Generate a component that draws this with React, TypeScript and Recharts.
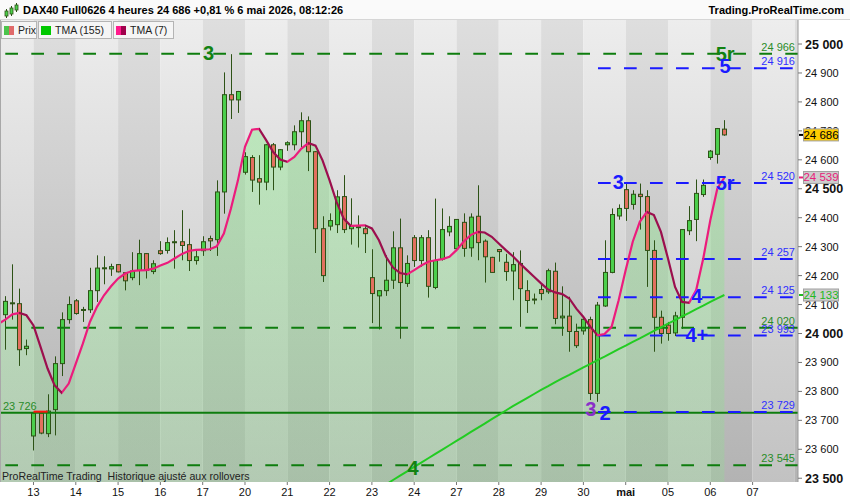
import React from 'react';
import {
  ComposedChart,
  XAxis,
  YAxis,
  Bar,
  Line,
  Area,
  ReferenceArea,
  ReferenceLine,
  ReferenceDot,
} from 'recharts';

const FONT = '"Liberation Sans", Arial, sans-serif';

// ---- Candles (4h bars), index 0..102 ----
const OPEN = [
  24065, 24103, 24103, 23948, 23646, 23725, 23654, 23737, 23896, 24048,
  24113, 24081, 24082, 24148, 24225, 24223, 24238, 24210, 24193, 24218,
  24276, 24214, 24286, 24287, 24314, 24317, 24307, 24252, 24286, 24328,
  24324, 24489, 24825, 24807, 24557, 24608, 24535, 24523, 24652, 24575,
  24652, 24652, 24697, 24735, 24628, 24362, 24371, 24376, 24473, 24362,
  24367, 24362, 24193, 24130, 24148, 24184, 24296, 24173, 24331, 24252,
  24331, 24159, 24257, 24351, 24293, 24384, 24296, 24405, 24319, 24263,
  24290, 24246, 24216, 24242, 24148, 24117, 24152, 24144, 24215, 24054,
  24060, 24007, 24009, 24048, 23793, 24095, 24211, 24406, 24497, 24446,
  24481, 24473, 24287, 24056, 24029, 24002, 24056, 24355, 24394, 24480,
  24608, 24619, 24706,
];
const HIGH = [
  24129, 24239, 24155, 23979, 23728, 23727, 23790, 23921, 24073, 24128,
  24119, 24092, 24227, 24270, 24267, 24241, 24240, 24212, 24281, 24324,
  24278, 24253, 24319, 24332, 24357, 24426, 24362, 24290, 24336, 24338,
  24529, 24902, 24965, 24838, 24626, 24616, 24616, 24654, 24658, 24637,
  24664, 24719, 24764, 24750, 24630, 24405, 24415, 24495, 24547, 24467,
  24408, 24370, 24291, 24150, 24270, 24353, 24397, 24270, 24340, 24340,
  24357, 24466, 24432, 24405, 24394, 24415, 24415, 24512, 24325, 24265,
  24292, 24275, 24281, 24287, 24184, 24138, 24170, 24224, 24245, 24163,
  24127, 24034, 24052, 24058, 24109, 24322, 24432, 24446, 24518, 24495,
  24518, 24495, 24322, 24079, 24040, 24075, 24359, 24440, 24532, 24532,
  24634, 24710, 24737,
];
const LOW = [
  23944, 24048, 23888, 23925, 23596, 23652, 23642, 23648, 23853, 24034,
  24065, 24040, 24071, 24109, 24170, 24199, 24211, 24149, 24184, 24167,
  24190, 24205, 24272, 24276, 24224, 24253, 24216, 24238, 24268, 24285,
  24268, 24414, 24741, 24762, 24549, 24489, 24445, 24495, 24495, 24564,
  24631, 24633, 24644, 24561, 24278, 24178, 24356, 24347, 24347, 24307,
  24297, 24278, 24036, 24014, 24130, 24154, 23982, 24161, 24230, 24230,
  24124, 24153, 24252, 24336, 24288, 24265, 24265, 24253, 24176, 24209,
  24248, 24182, 24115, 24023, 24071, 24101, 24115, 24137, 24032, 23992,
  23937, 23950, 23996, 23770, 23764, 24092, 24208, 24393, 24389, 24428,
  24359, 24161, 23937, 23965, 23975, 23991, 24016, 24340, 24319, 24472,
  24600, 24587, 24683,
];
const CLOSE = [
  24111, 24106, 23944, 23956, 23725, 23656, 23732, 23896, 24048, 24100,
  24069, 24083, 24148, 24226, 24227, 24231, 24213, 24182, 24216, 24276,
  24218, 24241, 24276, 24314, 24317, 24304, 24252, 24265, 24317, 24320,
  24489, 24825, 24807, 24836, 24611, 24530, 24523, 24652, 24575, 24635,
  24659, 24697, 24735, 24628, 24362, 24200, 24390, 24472, 24359, 24371,
  24369, 24345, 24138, 24148, 24184, 24296, 24176, 24242, 24252, 24331,
  24163, 24252, 24359, 24370, 24394, 24294, 24402, 24314, 24265, 24211,
  24283, 24214, 24238, 24155, 24114, 24119, 24138, 24217, 24052, 24060,
  24007, 23958, 24049, 23793, 24098, 24211, 24411, 24432, 24432, 24481,
  24473, 24287, 24056, 24000, 24000, 24061, 24359, 24390, 24484, 24512,
  24630, 24708, 24686,
];

// ---- TMA (7), index -1..102 ----
const TMA7_FIRST_INDEX = -1;
const TMA7 = [
  24033,
  24048, 24066, 24071, 24063, 24028, 23954, 23879, 23821, 23795, 23827,
  23896, 23965, 24040, 24092, 24132, 24163, 24190, 24207, 24216, 24218,
  24219, 24224, 24235, 24244, 24259, 24274, 24285, 24289, 24290, 24291,
  24301, 24345, 24431, 24529, 24645, 24704, 24707, 24668, 24627, 24601,
  24593, 24610, 24639, 24658, 24649, 24598, 24529, 24454, 24397, 24372,
  24373, 24374, 24363, 24322, 24265, 24228, 24209, 24204, 24219, 24235,
  24248, 24253, 24257, 24265, 24288, 24317, 24340, 24351, 24349, 24334,
  24311, 24288, 24267, 24242, 24219, 24196, 24173, 24152, 24142, 24136,
  24121, 24086, 24057, 24023, 23994, 23998, 24023, 24115, 24219, 24317,
  24386, 24420, 24409, 24351, 24259, 24161, 24109, 24106, 24150, 24259,
  24391, 24501, 24539,
];

// ---- TMA (155), index 54..102 ----
const TMA155_FIRST_INDEX = 54;
const TMA155 = [
  23478, 23494, 23509, 23524, 23539, 23554, 23569, 23584, 23599, 23614,
  23629, 23644, 23659, 23674, 23689, 23704, 23719, 23734, 23749, 23763,
  23777, 23791, 23805, 23818, 23832, 23845, 23857, 23870, 23883, 23895,
  23908, 23920, 23933, 23946, 23958, 23971, 23983, 23996, 24009, 24021,
  24034, 24046, 24059, 24071, 24084, 24096, 24109, 24121, 24133,
];

// ---- Axes ----
const DAY_TICKS = [4, 10, 16, 22, 28, 34, 40, 46, 52, 58, 64, 70, 76, 82, 88, 94, 100, 106];
const DAY_LABELS = ['13', '14', '15', '16', '17', '20', '21', '22', '23', '24', '27', '28', '29', '30', 'mai', '05', '06', '07'];
const Y_TICKS = [23500, 23600, 23700, 23800, 23900, 24000, 24100, 24200, 24300, 24400, 24500, 24600, 24700, 24800, 24900, 25000];
const X_DOMAIN = [-0.75, 112.44];
const Y_DOMAIN = [23487, 25083];

// ---- Levels ----
const GREEN_DASHED = [24966, 24020, 23545];
const GREEN_SOLID = 23726;
const BLUE_DASHED = [24916, 24520, 24257, 24125, 23993, 23729];
const BLUE_START_INDEX = 84.07;

// ---- Markers ----
const MARKER_TEXT = ['3', '5r', '5', '3', '5r', '4', '4+', '3', '2', '4'];
const MARKER_X = [28.85, 102.1, 102.1, 86.95, 102.1, 98.07, 98.1, 83.04, 85.06, 57.83];
const MARKER_Y = [24969, 24965, 24923, 24524, 24520, 24129, 23994, 23741, 23725, 23534];
const MARKER_KIND = ['g', 'g', 'b', 'b', 'b', 'b', 'b', 'p', 'b', 'g'];

// ---- Right price tags ----
const TAG_VALUES = [24686, 24539, 24133];
const TAG_BG = ['#ffcc00', '#cdcdcd', '#cdcdcd'];
const TAG_FG = ['#000000', '#e8207a', '#22b822'];

const PINK = '#ec1c7c';
const MAROON = '#9c0f4e';
const CANDLE_UP = '#4ccf4c';
const CANDLE_DOWN = '#e2705f';
const CANDLE_EDGE = '#2d5216';
const LVL_GREEN = '#0e7d0e';
const LVL_BLUE = '#1a1aff';
const TXT_GREEN = '#2a8c2a';
const TXT_BLUE = '#3030ff';
const MK_COLORS: Record<string, string> = { g: '#128212', b: '#1a1aff', p: '#8a2fc8' };

const fmt = (v: number) => `${Math.floor(v / 1000)} ${String(Math.round(v) % 1000).padStart(3, '0')}`;

const rows = TMA7.map((t, k) => {
  const i = TMA7_FIRST_INDEX + k;
  const row: any = { i, tma7: t };
  if (i >= 0 && i < OPEN.length) {
    row.o = OPEN[i];
    row.h = HIGH[i];
    row.l = LOW[i];
    row.c = CLOSE[i];
  }
  const j = i - TMA155_FIRST_INDEX;
  row.tma155 = j >= 0 && j < TMA155.length ? TMA155[j] : null;
  return row;
});

const CandleShape = (props: any) => {
  const { x, y, width, height, payload } = props;
  if (!payload || payload.o == null || x == null || y == null) return null;
  const { o, h, l, c } = payload;
  const top = Math.min(y, y + height);
  const hgt = Math.abs(height);
  if (!(hgt > 0) || h <= l) return null;
  const ppu = hgt / (h - l);
  const yOf = (v: number) => top + (h - v) * ppu;
  const px = Math.round(x + width / 2);
  const bTop = yOf(Math.max(o, c));
  const bBot = yOf(Math.min(o, c));
  const up = c >= o;
  return (
    <g>
      <line x1={px + 0.5} x2={px + 0.5} y1={top} y2={top + hgt} stroke={CANDLE_EDGE} strokeWidth={1} />
      <rect
        x={px - 1.5}
        y={bTop}
        width={4}
        height={Math.max(bBot - bTop, 1)}
        fill={up ? CANDLE_UP : CANDLE_DOWN}
        stroke={CANDLE_EDGE}
        strokeWidth={1}
      />
    </g>
  );
};

const YTick = (props: any) => {
  const { x, y, payload } = props;
  const v = payload.value;
  const bold = v % 500 === 0;
  return (
    <text
      x={x}
      y={y}
      dy={bold ? 4.5 : 4}
      textAnchor="start"
      fontSize={bold ? 12.5 : 11}
      fontWeight={bold ? 'bold' : 'normal'}
      fill="#111"
      fontFamily={FONT}
    >
      {fmt(v)}
    </text>
  );
};

const XTick = (props: any) => {
  const { x, y, payload } = props;
  const idx = DAY_TICKS.indexOf(payload.value);
  const label = DAY_LABELS[idx] ?? '';
  return (
    <text
      x={x}
      y={y}
      dy={8.5}
      textAnchor="middle"
      fontSize={11}
      fontWeight={label === 'mai' ? 'bold' : 'normal'}
      fill="#111"
      fontFamily={FONT}
    >
      {label}
    </text>
  );
};

const makeTag = (k: number) => (props: any) => {
  const { cx, cy } = props;
  if (cx == null || cy == null) return <g />;
  return (
    <g>
      <line x1={cx + 1} x2={cx + 5} y1={cy} y2={cy} stroke={k === 0 ? '#000' : TAG_FG[k]} strokeWidth={2} />
      <rect x={cx + 5.5} y={cy - 6} width={35} height={12} fill={TAG_BG[k]} stroke="#a0a0a0" strokeWidth={1} />
      <text x={cx + 23} y={cy} dy={4} textAnchor="middle" fontSize={11.5} fill={TAG_FG[k]} fontFamily={FONT}>
        {fmt(TAG_VALUES[k])}
      </text>
    </g>
  );
};

// direction colouring of TMA(7): stops follow the data
const tmaStops: React.ReactNode[] = [];
for (let k = 1; k < TMA7.length; k++) {
  const col = TMA7[k] >= TMA7[k - 1] ? PINK : MAROON;
  const n = TMA7.length - 1;
  tmaStops.push(<stop key={`a${k}`} offset={(k - 1) / n} stopColor={col} />);
  tmaStops.push(<stop key={`b${k}`} offset={k / n} stopColor={col} />);
}

// day bands (alternating)
const bandEdges = [X_DOMAIN[0], ...DAY_TICKS, 112, X_DOMAIN[1]];

export default function App() {
  return (
    <div
      style={{
        position: 'fixed',
        left: 0,
        top: 0,
        width: 850,
        height: 500,
        background: '#ffffff',
        fontFamily: FONT,
        overflow: 'hidden',
      }}
    >
      <div style={{ position: 'absolute', left: 0, top: 0 }}>
        <ComposedChart width={850} height={500} data={rows} margin={{ top: 20, right: 0, bottom: 0, left: 0 }}>
          <defs>
            <linearGradient id="bandLight" x1="0" y1="0" x2="0" y2="1">
              <stop offset="0" stopColor="#ededed" />
              <stop offset="1" stopColor="#c2c2c2" />
            </linearGradient>
            <linearGradient id="bandDark" x1="0" y1="0" x2="0" y2="1">
              <stop offset="0" stopColor="#dedede" />
              <stop offset="1" stopColor="#b3b3b3" />
            </linearGradient>
            <linearGradient id="tmaFill" x1="0" y1="0" x2="0" y2="1">
              <stop offset="0" stopColor="#86ea86" stopOpacity={0.42} />
              <stop offset="1" stopColor="#90dd90" stopOpacity={0.3} />
            </linearGradient>
            <linearGradient id="tmaStroke" x1="0" y1="0" x2="1" y2="0">
              {tmaStops}
            </linearGradient>
          </defs>

          {bandEdges.slice(0, -1).map((x1, k) => (
            <ReferenceArea
              key={`band${k}`}
              x1={x1}
              x2={bandEdges[k + 1]}
              fill={k % 2 === 0 ? 'url(#bandLight)' : 'url(#bandDark)'}
              fillOpacity={1}
              stroke="none"
              ifOverflow="visible"
            />
          ))}

          <XAxis
            dataKey="i"
            type="number"
            domain={X_DOMAIN}
            allowDataOverflow
            ticks={DAY_TICKS}
            interval={0}
            height={18}
            tickSize={3}
            tickMargin={2}
            tickLine={{ stroke: '#777' }}
            axisLine={false}
            tick={<XTick />}
          />
          <YAxis
            orientation="right"
            type="number"
            domain={Y_DOMAIN}
            allowDataOverflow
            ticks={Y_TICKS}
            interval={0}
            width={52}
            tickSize={4}
            tickMargin={3}
            axisLine={{ stroke: '#9a9a9a' }}
            tickLine={{ stroke: '#777' }}
            tick={<YTick />}
          />

          <Area
            dataKey="tma7"
            type="linear"
            stroke="none"
            fill="url(#tmaFill)"
            fillOpacity={1}
            isAnimationActive={false}
            dot={false}
            activeDot={false}
          />

          <Bar
            dataKey={(d: any) => (d.o == null ? null : [d.l, d.h])}
            barSize={5}
            shape={<CandleShape />}
            isAnimationActive={false}
          />

          {GREEN_DASHED.map((v) => (
            <ReferenceLine
              key={`gd${v}`}
              y={v}
              stroke={LVL_GREEN}
              strokeWidth={2}
              strokeDasharray="12.7 13.3"
              label={{ value: fmt(v), position: 'insideBottomRight', offset: 3, fill: TXT_GREEN, fontSize: 11 }}
            />
          ))}
          <ReferenceLine
            y={GREEN_SOLID}
            stroke={LVL_GREEN}
            strokeWidth={2}
            label={{ value: fmt(GREEN_SOLID), position: 'insideBottomLeft', offset: 3, fill: TXT_GREEN, fontSize: 11 }}
          />
          <ReferenceLine
            segment={[
              { x: 4, y: 23730 },
              { x: 6, y: 23730 },
            ]}
            stroke="#ff1010"
            strokeWidth={2}
          />
          {BLUE_DASHED.map((v) => (
            <ReferenceLine
              key={`bd${v}`}
              segment={[
                { x: BLUE_START_INDEX, y: v },
                { x: X_DOMAIN[1], y: v },
              ]}
              stroke={LVL_BLUE}
              strokeWidth={2}
              strokeDasharray="12.7 13.3"
              label={{ value: fmt(v), position: 'insideBottomRight', offset: 3, fill: TXT_BLUE, fontSize: 11 }}
            />
          ))}

          <Line
            dataKey="tma155"
            type="linear"
            stroke="#22cc22"
            strokeWidth={2}
            dot={false}
            activeDot={false}
            isAnimationActive={false}
          />
          <Line
            dataKey="tma7"
            type="linear"
            stroke="url(#tmaStroke)"
            strokeWidth={2.2}
            dot={false}
            activeDot={false}
            isAnimationActive={false}
          />

          {MARKER_TEXT.map((t, k) => (
            <ReferenceDot
              key={`mk${k}`}
              x={MARKER_X[k]}
              y={MARKER_Y[k]}
              r={0}
              fill="none"
              stroke="none"
              ifOverflow="visible"
              label={{
                value: t,
                position: 'center',
                fill: MK_COLORS[MARKER_KIND[k]],
                fontSize: 20,
                fontWeight: 'bold',
              }}
            />
          ))}

          {TAG_VALUES.map((v, k) => (
            <ReferenceDot
              key={`tag${k}`}
              x={X_DOMAIN[1]}
              y={v}
              r={0}
              ifOverflow="visible"
              zIndex={3000}
              shape={makeTag(k)}
            />
          ))}
        </ComposedChart>
      </div>

      {/* left edge line */}
      <div style={{ position: 'absolute', left: 0, top: 20, width: 1, height: 462, background: '#a8a8a8' }} />

      {/* header */}
      <div
        style={{
          position: 'absolute',
          left: 0,
          top: 0,
          width: 850,
          height: 20,
          background: '#fafafa',
          borderBottom: '1px solid #d6d6d6',
          boxSizing: 'border-box',
        }}
      >
        <svg width={16} height={16} style={{ position: 'absolute', left: 3, top: 3 }}>
          <line x1={3.5} x2={3.5} y1={6} y2={15} stroke="#2d5216" />
          <rect x={2} y={8} width={3} height={5} fill="#4ccf4c" stroke="#2d5216" strokeWidth={0.8} />
          <line x1={8.5} x2={8.5} y1={3} y2={13} stroke="#2d5216" />
          <rect x={7} y={5} width={3} height={6} fill="#4ccf4c" stroke="#2d5216" strokeWidth={0.8} />
          <line x1={13.5} x2={13.5} y1={0} y2={9} stroke="#2d5216" />
          <rect x={12} y={2} width={3} height={5} fill="#4ccf4c" stroke="#2d5216" strokeWidth={0.8} />
        </svg>
        <div
          style={{
            position: 'absolute',
            left: 23,
            top: 4,
            fontSize: 11,
            lineHeight: '13px',
            fontWeight: 'bold',
            color: '#000',
            whiteSpace: 'pre',
          }}
        >
          DAX40 Full0626 4 heures 24 686 +0,81 % 6 mai 2026, 08:12:26
        </div>
        <div
          style={{
            position: 'absolute',
            right: 6,
            top: 4,
            fontSize: 11,
            lineHeight: '13px',
            fontWeight: 'bold',
            color: '#000',
          }}
        >
          Trading.ProRealTime.com
        </div>
      </div>

      {/* legend */}
      {[
        { left: 1, width: 36, text: 'Prix', c1: '#4cc44c', c2: '#e06a6a' },
        { left: 38, width: 74, text: 'TMA (155)', c1: '#00c800', c2: '#00c800' },
        { left: 113, width: 61, text: 'TMA (7)', c1: '#ff1a8c', c2: '#a0004c' },
      ].map((b) => (
        <div
          key={b.text}
          style={{
            position: 'absolute',
            left: b.left,
            top: 21,
            width: b.width,
            height: 18,
            boxSizing: 'border-box',
            background: '#f5f5f5',
            border: '1px solid #b4b4b4',
          }}
        >
          <div style={{ position: 'absolute', left: 2, top: 4, width: 5, height: 9, background: b.c1 }} />
          <div style={{ position: 'absolute', left: 7, top: 4, width: 5, height: 9, background: b.c2 }} />
          <div
            style={{
              position: 'absolute',
              left: 16,
              top: 2,
              fontSize: 10.5,
              lineHeight: '13px',
              color: '#222',
              whiteSpace: 'pre',
            }}
          >
            {b.text}
          </div>
        </div>
      ))}

      {/* footer note */}
      <div
        style={{
          position: 'absolute',
          left: 2,
          top: 470,
          fontSize: 10.6,
          lineHeight: '13px',
          color: '#222',
          whiteSpace: 'pre',
        }}
      >
        ProRealTime Trading  Historique ajusté aux rollovers
      </div>
    </div>
  );
}
